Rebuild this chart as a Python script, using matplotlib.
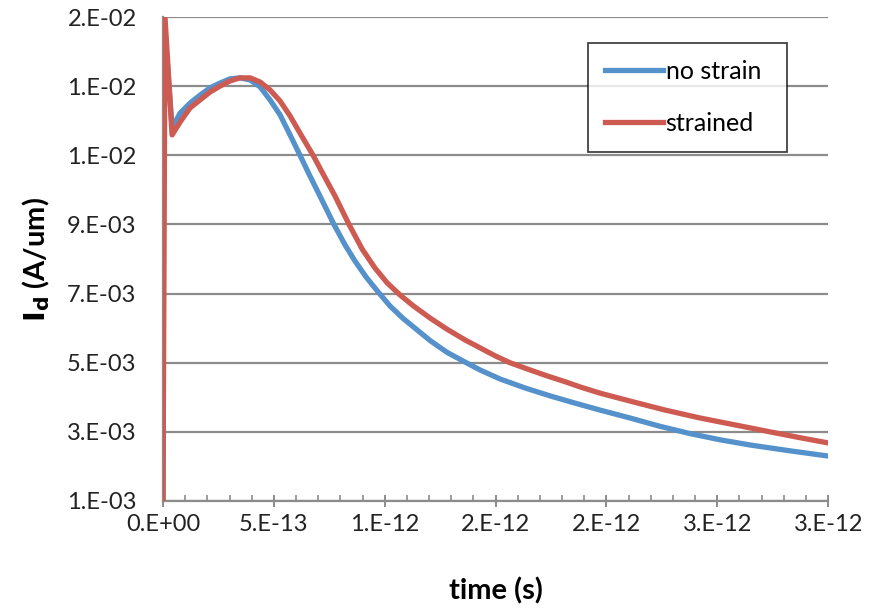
import numpy as np
import matplotlib
matplotlib.use("Agg")
import matplotlib.pyplot as plt
from matplotlib.ticker import AutoMinorLocator

plt.rcParams.update({"font.family": ["Lato", "DejaVu Sans"], "font.size": 17})

# drain current transient: time in ps, Id in A/um
t_nostrain = [0.0, 0.0045, 0.041, 0.077, 0.122, 0.167, 0.212, 0.257, 0.302, 0.347,
              0.393, 0.438, 0.483, 0.528, 0.573, 0.618, 0.663, 0.708, 0.771, 0.821,
              0.866, 0.916, 0.970, 1.024, 1.083, 1.146, 1.205, 1.281, 1.362, 1.430,
              1.520, 1.633, 1.746, 1.859, 1.971, 2.107, 2.242, 2.377, 2.513, 2.648,
              2.829, 3.0]
id_nostrain = [0.00100, 0.01500, 0.01179, 0.01222, 0.01251, 0.01274, 0.01295, 0.01309,
               0.01321, 0.01324, 0.01318, 0.01298, 0.01260, 0.01217, 0.01159, 0.01100,
               0.01040, 0.00982, 0.00900, 0.00841, 0.00794, 0.00748, 0.00705, 0.00664,
               0.00628, 0.00595, 0.00564, 0.00530, 0.00502, 0.00479, 0.00453, 0.00427,
               0.00404, 0.00383, 0.00363, 0.00340, 0.00316, 0.00295, 0.00277, 0.00262,
               0.00245, 0.00230]

t_strained = [0.0, 0.009, 0.041, 0.077, 0.122, 0.167, 0.212, 0.257, 0.302, 0.347,
              0.393, 0.438, 0.483, 0.528, 0.573, 0.618, 0.677, 0.717, 0.776, 0.839,
              0.898, 0.956, 1.011, 1.069, 1.128, 1.205, 1.281, 1.362, 1.430, 1.498,
              1.565, 1.656, 1.732, 1.814, 1.881, 1.971, 2.107, 2.265, 2.423, 2.581,
              2.738, 2.874, 3.0]
id_strained = [0.00100, 0.01500, 0.01159, 0.01196, 0.01237, 0.01260, 0.01283, 0.01300,
               0.01315, 0.01324, 0.01324, 0.01312, 0.01289, 0.01257, 0.01214, 0.01164,
               0.01100, 0.01052, 0.00982, 0.00900, 0.00829, 0.00774, 0.00731, 0.00696,
               0.00665, 0.00629, 0.00597, 0.00566, 0.00543, 0.00520, 0.00500, 0.00479,
               0.00462, 0.00445, 0.00430, 0.00412, 0.00389, 0.00363, 0.00340, 0.00320,
               0.00300, 0.00283, 0.00268]

# Excel-style rounded tick labels
x_ticks = [0, 0.5e-12, 1.0e-12, 1.5e-12, 2.0e-12, 2.5e-12, 3.0e-12]
x_labels = ["0.E+00", "5.E-13", "1.E-12", "2.E-12", "2.E-12", "3.E-12", "3.E-12"]
y_ticks = [0.001, 0.003, 0.005, 0.007, 0.009, 0.011, 0.013, 0.015]
y_labels = ["1.E-03", "3.E-03", "5.E-03", "7.E-03", "9.E-03", "1.E-02", "1.E-02", "2.E-02"]

blue, red, grey = "#5591cb", "#cd5b52", "#8c8c8c"

fig = plt.figure(figsize=(8.74, 6.08), dpi=100)
ax = fig.add_axes([0.1865, 0.176, 0.761, 0.796])

ps = 1e-12
ax.plot(np.array(t_nostrain) * ps, id_nostrain, color=blue, lw=3.8, label="no strain",
        solid_joinstyle="round", zorder=3)
ax.plot(np.array(t_strained) * ps, id_strained, color=red, lw=3.8, label="strained",
        solid_joinstyle="round", zorder=4)

ax.set_xlim(0, 3.0e-12)
ax.set_ylim(0.001, 0.015)
ax.set_xticks(x_ticks)
ax.set_xticklabels(x_labels)
ax.set_yticks(y_ticks)
ax.set_yticklabels(y_labels)
ax.xaxis.set_minor_locator(AutoMinorLocator(5))

ax.grid(axis="y", color=grey, lw=1.6)
ax.set_axisbelow(True)
for s in ("top", "right"):
    ax.spines[s].set_visible(False)
for s in ("left", "bottom"):
    ax.spines[s].set_color(grey)
    ax.spines[s].set_linewidth(1.6)

ax.tick_params(axis="x", which="major", direction="inout", length=9, width=1.4,
               color=grey, pad=5)
ax.tick_params(axis="x", which="minor", direction="in", length=4, width=1.2, color=grey)
ax.tick_params(axis="y", length=0, pad=19)
ax.tick_params(labelcolor="#222222")

ax.set_xlabel("time (s)", fontsize=21, fontweight="bold", labelpad=30)
ax.set_ylabel(r"$\mathbf{I_d}$ (A/um)", fontsize=21, fontweight="bold", labelpad=11)

leg = ax.legend(loc="upper left", bbox_to_anchor=(0.639, 0.723, 0.299, 0.223),
                mode="expand", frameon=True, fancybox=False, edgecolor="black",
                handlelength=2.3, handletextpad=0.12, labelspacing=1.15,
                borderpad=0.68, borderaxespad=0, fontsize=18)
leg.get_frame().set_linewidth(1.2)

fig.savefig("out.png", dpi=100)
